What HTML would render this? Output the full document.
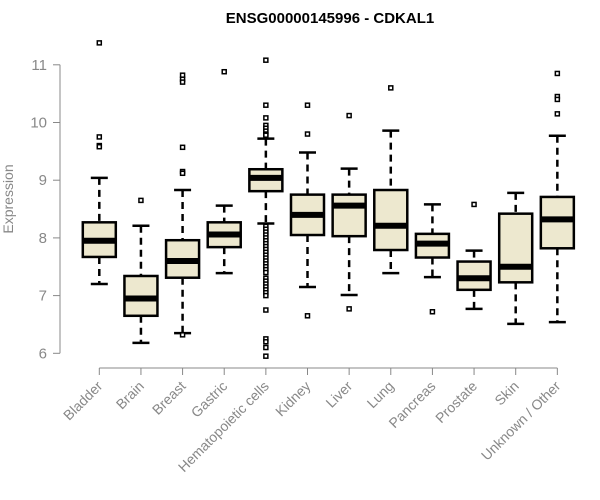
<!DOCTYPE html>
<html><head><meta charset="utf-8"><style>
body{margin:0;background:#fff;}
svg{display:block;font-family:"Liberation Sans",Arial,sans-serif;}
</style></head><body>
<svg id="chart" width="600" height="500">
<text x="330" y="23" text-anchor="middle" font-weight="bold" font-size="15" fill="#000">ENSG00000145996 - CDKAL1</text>
<text transform="translate(13,199) rotate(-90)" text-anchor="middle" font-size="14" fill="#888">Expression</text>
<g id="axes"></g><g id="boxes"></g>
</svg>
<script>
const categories=["Bladder","Brain","Breast","Gastric","Hematopoietic cells","Kidney","Liver","Lung","Pancreas","Prostate","Skin","Unknown / Other"];
const whiskerLow=[7.2,6.18,6.35,7.39,8.25,7.15,7.01,7.39,7.32,6.77,6.51,6.54];
const q1=[7.67,6.65,7.31,7.84,8.81,8.05,8.03,7.79,7.66,7.1,7.23,7.82];
const medians=[7.95,6.95,7.6,8.06,9.04,8.4,8.56,8.21,7.9,7.3,7.5,8.32];
const q3=[8.27,7.34,7.96,8.27,9.19,8.75,8.75,8.83,8.07,7.59,8.42,8.71];
const whiskerHigh=[9.04,8.21,8.83,8.56,9.72,9.48,9.2,9.86,8.58,7.78,8.78,9.77];
const outliers=[[11.38,9.75,9.6,9.58],[8.65],[10.82,10.75,10.7,9.57,9.15,9.12,6.32],[10.88],
[11.08,10.3,10.08,9.95,9.9,9.85,9.8,9.78,8.2,8.15,8.1,8.05,8.0,7.95,7.9,7.85,7.8,7.75,7.7,7.65,7.6,7.55,7.5,7.45,7.4,7.3,7.25,7.2,7.15,7.1,7.05,7.0,6.75,6.25,6.2,6.1,5.95],
[10.3,9.8,6.65],[10.12,6.77],[10.6],[6.72],[8.58],[],[10.85,10.45,10.4,10.15]];
const yTicks=[6,7,8,9,10,11];
const NS="http://www.w3.org/2000/svg";
const yS=v=>353.3-(v-6)*57.7;
const xS=i=>99.3+i*41.64;
function mk(t,a,p){const e=document.createElementNS(NS,t);for(const k in a)e.setAttribute(k,a[k]);p.appendChild(e);return e;}
const ax=document.getElementById('axes'),bx=document.getElementById('boxes');
const yl=mk('line',{x1:60,x2:60,y1:yS(11),y2:yS(6),stroke:'#888','stroke-width':1},ax);


yTicks.forEach(v=>{
 const t=mk('line',{x1:53,x2:60,y1:yS(v),y2:yS(v),stroke:'#888'},ax);
 
 
 const l=mk('text',{x:47,y:yS(v)+5,'text-anchor':'end','font-size':15,fill:'#888'},ax);
 l.textContent=v;
 
 
});
const xl=mk('line',{x1:xS(0),x2:xS(11),y1:368,y2:368,stroke:'#888'},ax);


categories.forEach((c,i)=>{
 const x=xS(i);
 const t=mk('line',{x1:x,x2:x,y1:368,y2:375,stroke:'#888'},ax);
 
 
 const l=mk('text',{transform:`translate(${x+4},${387}) rotate(-45)`,'text-anchor':'end','font-size':14,fill:'#888'},ax);
 l.textContent=c;
 
 
 const g=mk('g',{},bx);
 
 
 const st={stroke:'#000','stroke-width':2.5};
 mk('line',Object.assign({x1:x,x2:x,y1:yS(whiskerHigh[i]),y2:yS(q3[i]),'stroke-dasharray':'7,5'},st),g);
 mk('line',Object.assign({x1:x,x2:x,y1:yS(q1[i]),y2:yS(whiskerLow[i]),'stroke-dasharray':'7,5'},st),g);
 mk('line',Object.assign({x1:x-8.5,x2:x+8.5,y1:yS(whiskerHigh[i]),y2:yS(whiskerHigh[i])},st),g);
 mk('line',Object.assign({x1:x-8.5,x2:x+8.5,y1:yS(whiskerLow[i]),y2:yS(whiskerLow[i])},st),g);
 mk('rect',Object.assign({x:x-16.5,y:yS(q3[i]),width:33,height:yS(q1[i])-yS(q3[i]),fill:'#ede8cf'},st),g);
 mk('line',{x1:x-16.5,x2:x+16.5,y1:yS(medians[i]),y2:yS(medians[i]),stroke:'#000','stroke-width':6},g);
 outliers[i].forEach(v=>{
  const o=mk('rect',{x:x-2,y:yS(v)-2,width:4,height:4,fill:'#fff',stroke:'#000','stroke-width':1.5},g);
  
  
 });
});
</script>
</body></html>
